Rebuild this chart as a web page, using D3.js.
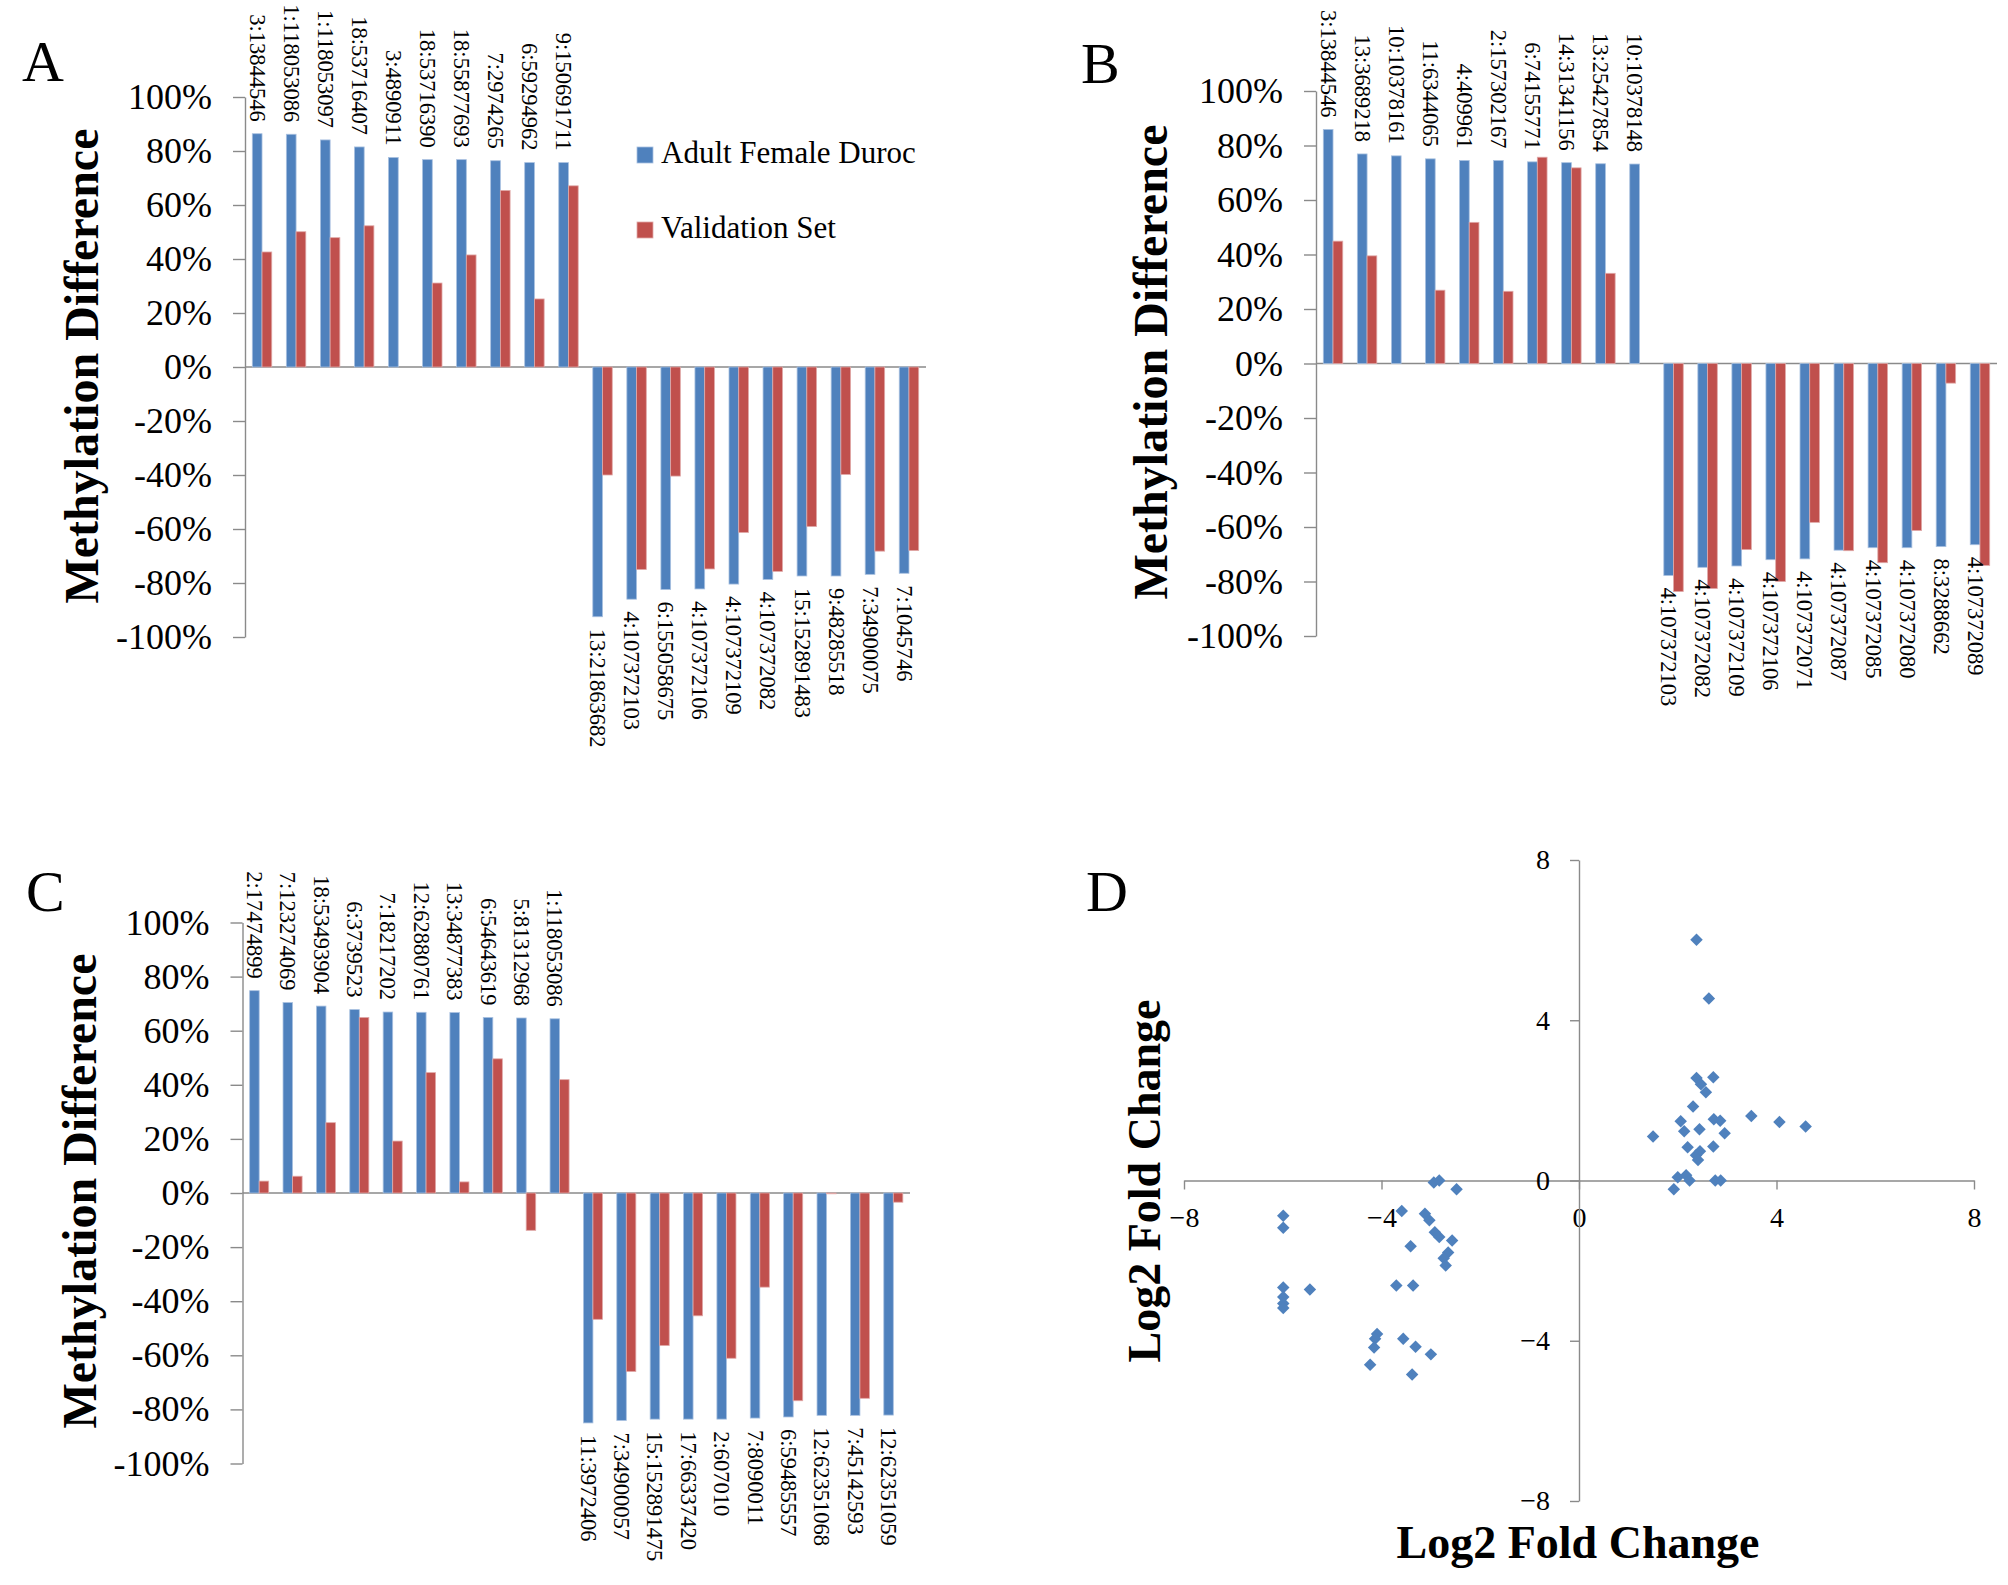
<!DOCTYPE html>
<html>
<head>
<meta charset="utf-8">
<script src="https://cdn.jsdelivr.net/npm/d3@7"></script>
<style>
  body { margin: 0; background: #fff; }
  svg { display: block; }
  text { font-family: "Liberation Serif", "Times New Roman", serif; fill: #000; }
</style>
</head>
<body>
<svg id="fig" width="2008" height="1585"></svg>
<script>
const seriesNames = ["Adult Female Duroc", "Validation Set"];

// panel A
const labelsA = ["3:13844546","1:118053086","1:118053097","18:53716407","3:4890911","18:53716390","18:55877693","7:2974265","6:59294962","9:150691711",
  "13:21863682","4:107372103","6:155058675","4:107372106","4:107372109","4:107372082","15:152891483","9:48285518","7:34900075","7:1045746"];
const adultA = [86.4,86.2,84.1,81.5,77.6,76.8,76.8,76.4,75.7,75.7, -92.5,-86.0,-82.4,-82.2,-80.4,-78.7,-77.4,-77.4,-76.8,-76.4];
const validA = [42.6,50.1,47.9,52.3,null,31.1,41.5,65.4,25.2,67.1, -40.0,-75.0,-40.4,-74.8,-61.3,-75.7,-59.1,-39.8,-68.2,-68.0];

// panel B
const labelsB = ["3:13844546","13:3689218","10:10378161","11:6344065","4:409961","2:157302167","6:74155771","14:31341156","13:25427854","10:10378148",
  "4:107372103","4:107372082","4:107372109","4:107372106","4:107372071","4:107372087","4:107372085","4:107372080","8:3288662","4:107372089"];
const adultB = [85.9,76.9,76.2,75.1,74.5,74.5,74.0,73.7,73.3,73.2, -77.8,-74.8,-74.3,-72.0,-71.7,-68.5,-67.6,-67.6,-67.2,-66.5];
const validB = [44.9,39.5,null,26.9,51.8,26.5,75.7,71.8,33.1,null, -83.7,-82.6,-68.3,-80.0,-58.3,-68.7,-73.1,-61.3,-7.2,-74.1];

// panel C
const labelsC = ["2:17474899","7:123274069","18:53493904","6:3739523","7:18217202","12:62880761","13:34877383","6:54643619","5:81312968","1:118053086",
  "11:3972406","7:34900057","15:152891475","17:66337420","2:607010","7:8090011","6:59485557","12:62351068","7:45142593","12:62351059"];
const adultC = [74.8,70.4,69.1,67.8,66.9,66.8,66.7,64.9,64.7,64.4, -85.0,-84.1,-83.6,-83.6,-83.6,-83.2,-82.8,-82.2,-82.2,-82.1];
const validC = [4.4,6.2,26.0,64.9,19.2,44.5,4.1,49.6,-13.8,41.9, -46.7,-66.0,-56.4,-45.4,-61.1,-34.8,-76.8,-0.3,-75.9,-3.4];

const pctTicks = [-100,-80,-60,-40,-20,0,20,40,60,80,100];

// panel D: log2 fold change pairs
const foldX = [2.38,2.63,2.38,2.72,2.47,2.57,2.31,3.49,2.06,2.73,2.86,4.06,4.59,2.44,2.13,2.95,1.50,2.20,2.45,2.72,2.37,2.41,2.00,2.17,2.24,2.76,2.87,1.92,
  -5.99,-5.99,-5.99,-5.99,-5.99,-5.99,-5.45,-2.94,-2.83,-2.48,-3.59,-3.12,-3.03,-2.92,-2.83,-2.57,-3.41,-2.65,-2.74,-2.70,-3.70,-3.36,-4.09,-4.13,-4.15,-3.56,-3.31,-3.00,-4.23,-3.38];
const foldY = [6.01,4.54,2.56,2.58,2.40,2.20,1.85,1.61,1.48,1.53,1.49,1.46,1.35,1.28,1.23,1.18,1.10,0.83,0.73,0.85,0.63,0.51,0.08,0.13,0.00,0.00,0.00,-0.22,
  -0.88,-1.18,-2.67,-2.91,-3.07,-3.18,-2.72,-0.05,0.00,-0.22,-0.76,-0.83,-0.99,-1.29,-1.41,-1.50,-1.64,-1.80,-1.94,-2.12,-2.62,-2.62,-3.83,-3.95,-4.17,-3.95,-4.15,-4.34,-4.60,-4.84];
const foldTicks = [-8,-4,0,4,8];

const svg = d3.select("#fig");
const blue = "#4f81bd", red = "#c0504d", axisGrey = "#8a8a8a";
const serif = '"Liberation Serif", "Times New Roman", serif';

function styleAxis(g, size) {
  g.attr("font-family", null).attr("font-size", null);
  g.selectAll("path, line").attr("stroke", axisGrey).attr("stroke-width", 1.4);
  g.selectAll("text")
    .style("font-family", serif)
    .style("font-size", size + "px")
    .attr("fill", "#000");
}

function barPanel(p, labels, adult, valid) {
  const g = svg.append("g");
  const idx = d3.range(labels.length);
  const x = d3.scaleBand().domain(idx).range([p.left, p.right])
    .paddingInner(0.4286).paddingOuter(0.2143);
  const xs = d3.scaleBand().domain(["adult", "valid"]).range([0, x.bandwidth()]);
  const y = d3.scaleLinear().domain([-100, 100]).range([p.bottom, p.top]);

  g.append("g")
    .attr("transform", `translate(${p.left},0)`)
    .call(d3.axisLeft(y).tickValues(pctTicks).tickFormat(d => d + "%")
      .tickSize(12).tickSizeOuter(0).tickPadding(21))
    .call(a => styleAxis(a, 36));

  g.append("line")
    .attr("x1", p.left).attr("x2", p.right)
    .attr("y1", y(0)).attr("y2", y(0))
    .attr("stroke", axisGrey).attr("stroke-width", 1.4);

  const series = [["adult", adult, blue, "#a9c1e0"], ["valid", valid, red, "#e0a9a8"]];
  series.forEach(([key, vals, fill, edge]) => {
    g.append("g").selectAll("rect")
      .data(idx.filter(i => vals[i] !== null))
      .join("rect")
      .attr("x", i => x(i) + xs(key))
      .attr("width", xs.bandwidth())
      .attr("y", i => Math.min(y(vals[i]), y(0)))
      .attr("height", i => Math.abs(y(vals[i]) - y(0)))
      .attr("fill", fill)
      .attr("stroke", edge).attr("stroke-width", 0.8);
  });

  // data labels at the outer end of the adult bars
  g.append("g").selectAll("text")
    .data(idx)
    .join("text")
    .attr("transform", i => {
      const cx = x(i) + xs("adult") + xs.bandwidth() / 2;
      const cy = adult[i] >= 0 ? y(adult[i]) - 12 : y(adult[i]) + 12;
      return `translate(${cx},${cy}) rotate(90)`;
    })
    .attr("text-anchor", i => adult[i] >= 0 ? "end" : "start")
    .attr("dy", "0.33em")
    .style("font-family", serif)
    .style("font-size", "22.5px")
    .text(i => labels[i]);

  g.append("text")
    .attr("transform", `translate(${p.titleX},${p.titleY}) rotate(-90)`)
    .attr("text-anchor", "middle")
    .style("font-family", serif)
    .style("font-size", "48px").style("font-weight", "bold")
    .text("Methylation Difference");

  g.append("text")
    .attr("x", p.letterX).attr("y", p.letterY)
    .style("font-family", serif)
    .style("font-size", "58px")
    .text(p.letter);
}

barPanel({left: 245, right: 926, top: 97, bottom: 637, titleX: 98, titleY: 366,
  letter: "A", letterX: 22, letterY: 81}, labelsA, adultA, validA);
barPanel({left: 1316, right: 1997, top: 91, bottom: 636, titleX: 1167, titleY: 362,
  letter: "B", letterX: 1081, letterY: 83}, labelsB, adultB, validB);
barPanel({left: 242.5, right: 910, top: 922.5, bottom: 1463.5, titleX: 96, titleY: 1191,
  letter: "C", letterX: 26, letterY: 911}, labelsC, adultC, validC);

// legend (panel A)
const legend = svg.append("g").selectAll("g")
  .data(seriesNames)
  .join("g")
  .attr("transform", (d, i) => `translate(637,${147 + i * 75})`);
legend.append("rect")
  .attr("width", 16).attr("height", 16)
  .attr("fill", (d, i) => i === 0 ? blue : red)
  .attr("stroke", (d, i) => i === 0 ? "#a9c1e0" : "#e0a9a8").attr("stroke-width", 0.8);
legend.append("text")
  .attr("x", 24).attr("y", 16)
  .style("font-family", serif)
  .style("font-size", "31px")
  .text(d => d);

// panel D scatter
const gD = svg.append("g");
const xD = d3.scaleLinear().domain([-8, 8]).range([1184, 1974]);
const yD = d3.scaleLinear().domain([-8, 8]).range([1501, 860]);

gD.append("g")
  .attr("transform", `translate(0,${yD(0)})`)
  .call(d3.axisBottom(xD).tickValues(foldTicks).tickSize(9).tickSizeOuter(0).tickPadding(18))
  .call(a => styleAxis(a, 28));
gD.append("g")
  .attr("transform", `translate(${xD(0)},0)`)
  .call(d3.axisLeft(yD).tickValues(foldTicks).tickSize(9).tickSizeOuter(0).tickPadding(20))
  .call(a => styleAxis(a, 28));

const diamond = d3.symbol().type(d3.symbolSquare).size(78);
gD.append("g").selectAll("path")
  .data(d3.range(foldX.length))
  .join("path")
  .attr("transform", i => `translate(${xD(foldX[i])},${yD(foldY[i])}) rotate(45)`)
  .attr("d", diamond)
  .attr("fill", blue);

gD.append("text")
  .attr("x", 1578).attr("y", 1558)
  .attr("text-anchor", "middle")
  .style("font-family", serif)
  .style("font-size", "46px").style("font-weight", "bold")
  .text("Log2 Fold Change");
gD.append("text")
  .attr("transform", `translate(1160,1181) rotate(-90)`)
  .attr("text-anchor", "middle")
  .style("font-family", serif)
  .style("font-size", "46px").style("font-weight", "bold")
  .text("Log2 Fold Change");
gD.append("text")
  .attr("x", 1086).attr("y", 911)
  .style("font-family", serif)
  .style("font-size", "58px")
  .text("D");
</script>
</body>
</html>
